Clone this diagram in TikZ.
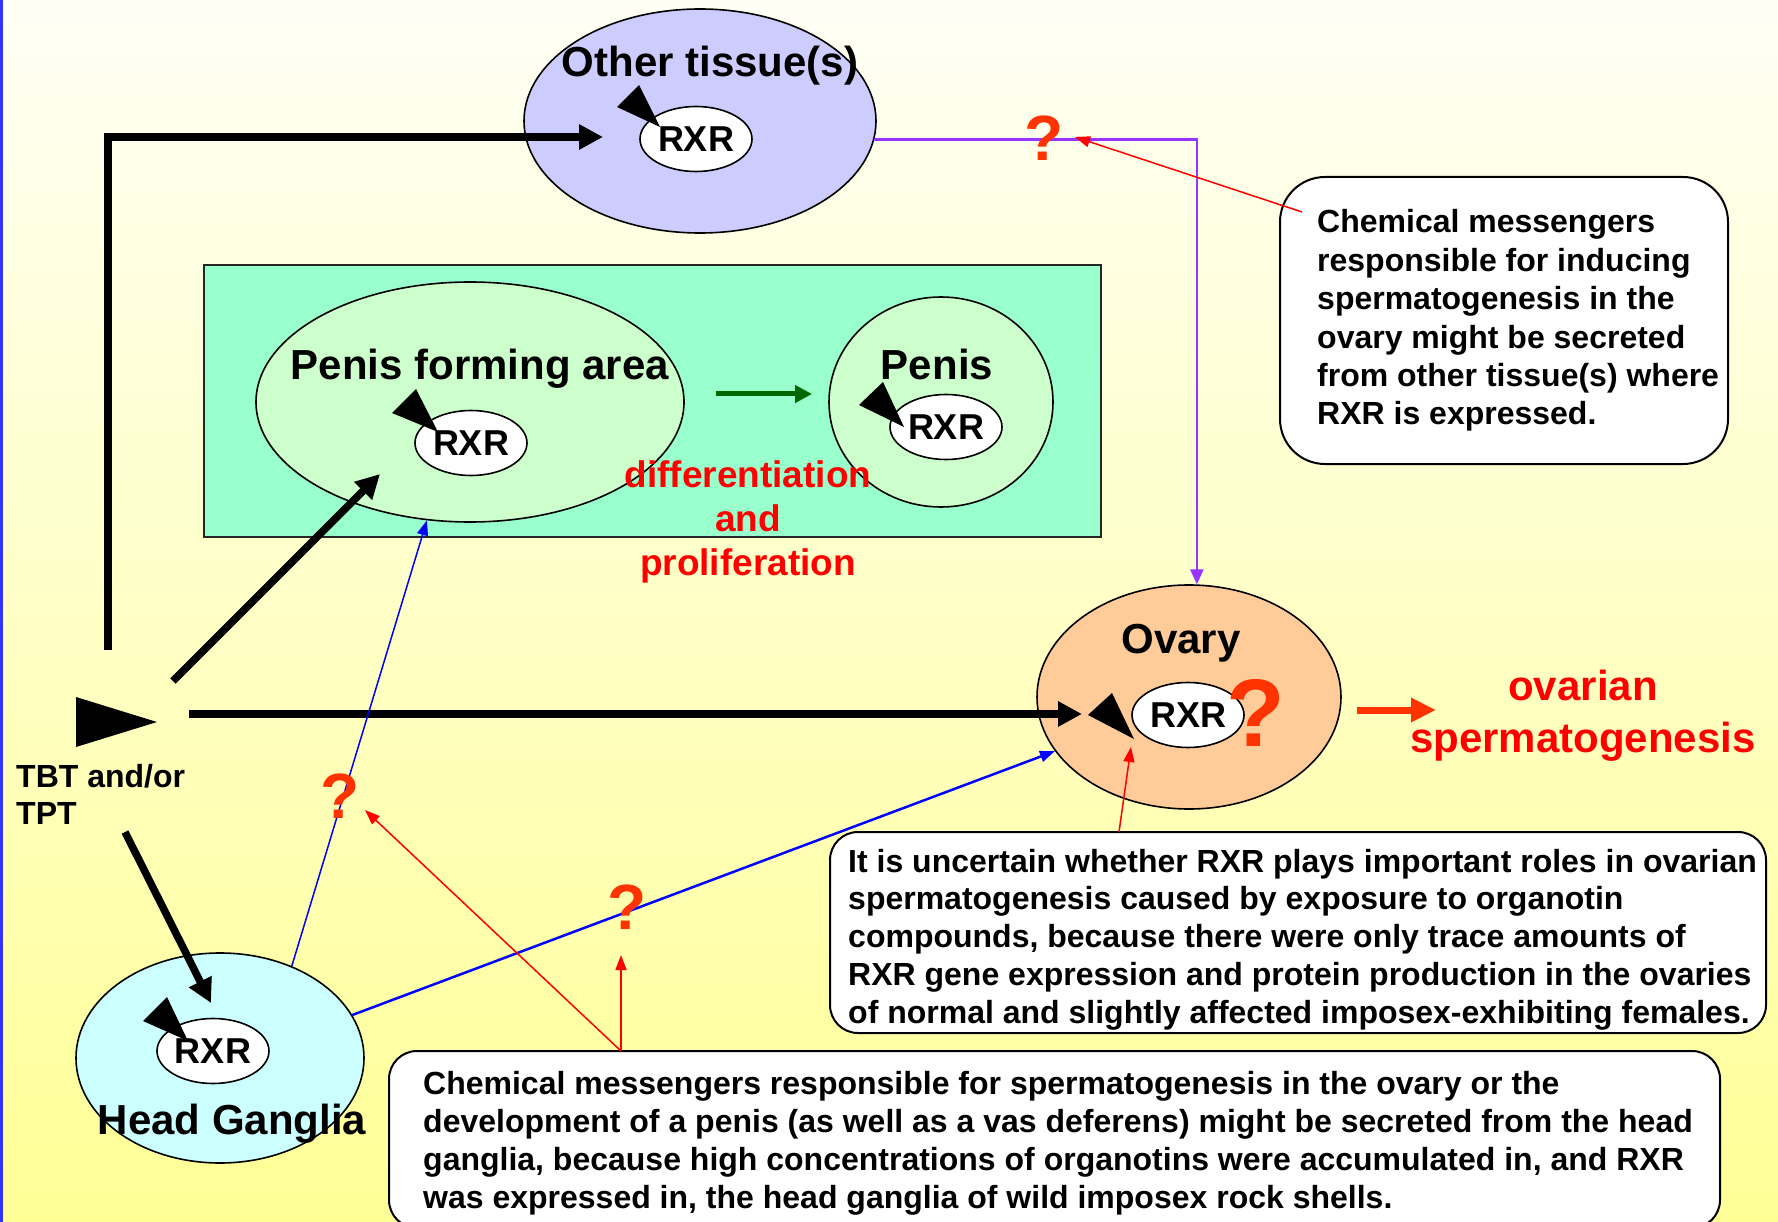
\documentclass[tikz,border=0pt]{standalone}
\usepackage{fontspec}
\setmainfont{Liberation Sans}
\usetikzlibrary{arrows.meta,shapes.geometric}
\definecolor{bgtop}{RGB}{255,255,246}
\definecolor{bgbot}{RGB}{255,255,150}
\definecolor{othfill}{RGB}{204,204,255}
\definecolor{rectgreen}{RGB}{153,255,204}
\definecolor{penfill}{RGB}{204,255,204}
\definecolor{hgfill}{RGB}{204,255,255}
\definecolor{ovfill}{RGB}{255,204,153}
\definecolor{qred}{RGB}{255,51,0}
\definecolor{txtred}{RGB}{255,0,0}
\definecolor{dkgreen}{RGB}{0,102,0}
\definecolor{purp}{RGB}{153,51,255}
\definecolor{edgeblue}{RGB}{51,51,255}
\tikzset{
  organ/.style={ellipse, draw=black, line width=1.6pt, inner sep=0pt},
  rxr/.style={ellipse, draw=black, line width=1.6pt, fill=white, minimum width=112pt, minimum height=65pt, inner sep=0pt, font=\fontsize{36}{42}\selectfont\bfseries},
  lbl/.style={inner sep=0pt, anchor=base, font=\fontsize{42}{50}\selectfont\bfseries},
  redlbl/.style={inner sep=0pt, anchor=base, text=txtred},
  qmark/.style={inner sep=0pt, text=qred, font=\fontsize{64}{70}\selectfont\bfseries},
  cbox/.style={rectangle, draw=black, line width=2pt, fill=white, inner sep=0pt},
  boxtxt/.style={inner sep=0pt, anchor=base west, font=\fontsize{32}{38}\selectfont\bfseries},
  blackarrow/.style={draw=black, line width=7.5pt, -{Triangle[length=24pt,width=24pt]}},
  bluearrow/.style={draw=blue, -{Triangle[length=15pt,width=11pt]}},
  redarrow/.style={draw=txtred, line width=1.5pt, -{Triangle[length=15pt,width=11pt]}},
  ligand/.style={fill=black},
}
\begin{document}
\begin{tikzpicture}[x=1pt,y=-1pt]
\useasboundingbox (0,0) rectangle (1778,1222);
\shade[top color=bgtop, bottom color=bgbot] (0,0) rectangle (1778,1222);
\fill[edgeblue] (0,0) rectangle (3,1222);

% green zone
\node[rectangle, draw=black!85, line width=2pt, fill=rectgreen, minimum width=897pt, minimum height=272pt, inner sep=0pt] (zone) at (652.5,401) {};

% organs
\node[organ, fill=othfill, minimum width=352pt, minimum height=224pt] (ot) at (700,121) {};
\node[organ, fill=penfill, minimum width=428pt, minimum height=240pt] (pfa) at (470,402) {};
\node[organ, fill=penfill, minimum width=224pt, minimum height=210pt] (pen) at (941,402) {};
\node[organ, fill=ovfill, minimum width=304pt, minimum height=224pt] (ov) at (1189,697) {};
\node[organ, fill=hgfill, minimum width=288pt, minimum height=210pt] (hg) at (220,1058) {};

% RXR
\node[rxr] (otr) at (696,139) {RXR};
\node[rxr] (pfar) at (471,443) {RXR};
\node[rxr] (penr) at (946,427) {RXR};
\node[rxr] (ovr) at (1188,715) {RXR};
\node[rxr] (hgr) at (213,1051) {RXR};

% labels
\node[lbl] (otl) at (710,77) {Other tissue(s)};
\node[lbl] (pfal) at (480,380) {Penis forming area};
\node[lbl] (penl) at (937,380) {Penis};
\node[lbl] (ovl) at (1181,653) {Ovary};
\node[lbl] (hgl) at (232,1134) {Head Ganglia};

% ligand triangles
\fill[ligand] (639,85) -- (617,107) -- (660,127) -- cycle;
\fill[ligand] (416,389) -- (392,413) -- (438,432) -- cycle;
\fill[ligand] (883,382) -- (859,405) -- (904,427) -- cycle;
\fill[ligand] (1112,693) -- (1088,715) -- (1134,739) -- cycle;
\fill[ligand] (167,997) -- (143,1021) -- (188,1041) -- cycle;

% TBT
\fill[black] (76,697) -- (76,747) -- (157,722) -- cycle;
\node[boxtxt, font=\fontsize{32}{37}\selectfont\bfseries] (tbt) at (16,787) {\vtop{\hbox{TBT and/or}\hbox{TPT}}};

% red text
\node[redlbl, font=\fontsize{37}{44}\selectfont\bfseries] (diff) at (748,487) {\vtop{\hbox to 0pt{\hss differentiation\hss}\hbox to 0pt{\hss and\hss}\hbox to 0pt{\hss proliferation\hss}}};
\node[redlbl, font=\fontsize{42}{52}\selectfont\bfseries] (ovsp) at (1583,700) {\vtop{\hbox to 0pt{\hss ovarian\hss}\hbox to 0pt{\hss spermatogenesis\hss}}};

% connectors: black
\coordinate (a1s) at (108,650); \coordinate (a1e) at (603,137);
\coordinate (a2s) at (173,681); \coordinate (a2e) at (380,474);
\coordinate (a3s) at (189,714); \coordinate (a3e) at (1082,714);
\coordinate (a4s) at (125,832); \coordinate (a4e) at (211,1003);
\draw[blackarrow] (a1s) |- (a1e);
\draw[blackarrow] (a2s) -- (a2e);
\draw[blackarrow] (a3s) -- (a3e);
\draw[blackarrow] (a4s) -- (a4e);

% green and orange arrows
\coordinate (g1) at (716,394); \coordinate (g2) at (812,394);
\draw[draw=dkgreen, line width=5pt, -{Triangle[length=17pt,width=17pt]}] (g1) -- (g2);
\coordinate (o1) at (1357,710); \coordinate (o2) at (1436,710);
\draw[draw=qred, line width=7pt, -{Triangle[length=25pt,width=23pt]}] (o1) -- (o2);

% blue and purple
\draw[bluearrow, line width=1.5pt] (hg.52) -- (pfa.250);
\draw[bluearrow, line width=2.5pt] (hg.18) -- (ov.202);
\draw[draw=purp, line width=2.5pt, -{Triangle[length=15pt,width=13pt]}] (ot.-6) -| (ov.86);

% question marks
\node[qmark] (q1) at (1044,138) {?};
\node[qmark] (q2) at (340,796) {?};
\node[qmark] (q3) at (627,907) {?};
\node[qmark, font=\fontsize{96}{100}\selectfont\bfseries] (q4) at (1256,713) {?};

% callout boxes
\node[cbox, rounded corners=45pt, minimum width=448pt, minimum height=287pt] (cb3) at (1504,320.5) {};
\node[cbox, rounded corners=28pt, minimum width=936pt, minimum height=201pt] (cb1) at (1298,932.5) {};
\node[cbox, rounded corners=28pt, minimum width=1331pt, minimum height=177pt] (cb2) at (1054.5,1139.5) {};

\node[boxtxt, font=\fontsize{32}{38.4}\selectfont\bfseries] (t3) at (1317,233) {\vtop{\hbox{Chemical messengers}\hbox{responsible for inducing}\hbox{spermatogenesis in the}\hbox{ovary might be secreted}\hbox{from other tissue(s) where}\hbox{RXR is expressed.}}};
\node[boxtxt, font=\fontsize{32}{37.8}\selectfont\bfseries] (t1) at (848,872) {\vtop{\hbox{It is uncertain whether RXR plays important roles in ovarian}\hbox{spermatogenesis caused by exposure to organotin}\hbox{compounds, because there were only trace amounts of}\hbox{RXR gene expression and protein production in the ovaries}\hbox{of normal and slightly affected imposex-exhibiting females.}}};
\node[boxtxt, font=\fontsize{32}{38}\selectfont\bfseries] (t2) at (423,1094) {\vtop{\hbox{Chemical messengers responsible for spermatogenesis in the ovary or the}\hbox{development of a penis (as well as a vas deferens) might be secreted from the head}\hbox{ganglia, because high concentrations of organotins were accumulated in, and RXR}\hbox{was expressed in, the head ganglia of wild imposex rock shells.}}};

% red connectors
\coordinate (r1s) at (1302,212); \coordinate (r1e) at (1075,137);
\coordinate (r2s) at (621,1051); \coordinate (r2e) at (365,810);
\coordinate (r3e) at (621,955);
\coordinate (r4s) at (1119,832); \coordinate (r4e) at (1131,747);
\draw[redarrow] (r1s) -- (r1e);
\draw[redarrow] (r2s) -- (r2e);
\draw[redarrow] (r2s) -- (r3e);
\draw[redarrow] (r4s) -- (r4e);
\end{tikzpicture}
\end{document}
